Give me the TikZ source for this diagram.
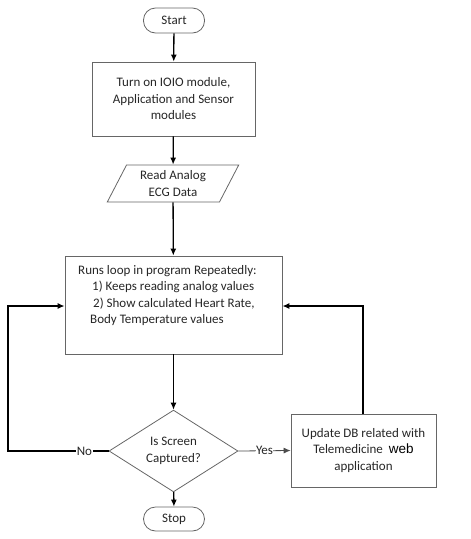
\documentclass[tikz,border=0pt]{standalone}
\usepackage{fontspec}
\setmainfont{Carlito}
\newfontfamily\webfont{Liberation Sans}
\usetikzlibrary{shapes.geometric,arrows.meta}
\tikzset{
  flow/.style={draw=black!60, line width=0.8pt, text=black!85, font=\fontsize{13}{16.5}\selectfont, align=center, inner sep=0pt},
  term/.style={flow, rounded corners=12pt, minimum width=61pt, minimum height=25pt},
  proc/.style={flow, minimum width=#1, minimum height=74pt},
  link/.style={line width=1.3pt, -{Latex[length=7pt,width=6pt]}},
  tag/.style={fill=white, inner sep=0.5pt, text=black!85, font=\fontsize{13}{16}\selectfont}
}
\begin{document}
\begin{tikzpicture}[x=1pt,y=-1pt]
\useasboundingbox (0,0) rectangle (471,539);
% blocks
\node[term] (start) at (174,20.5) {Start};
\node[proc=163pt] (init) at (173.5,99) {Turn on IOIO module,\\Application and Sensor\\modules};
\node[flow, trapezium, trapezium left angle=62, trapezium right angle=118, trapezium stretches=true, minimum width=132pt, minimum height=37pt] (read) at (173,183.5) {Read Analog\\ECG Data};
\node[flow, minimum width=217pt, minimum height=98pt] (loop) at (173.5,305) {};
\node[text=black!85, font=\fontsize{13}{16.5}\selectfont, align=left, anchor=north west, inner sep=0pt] (looptxt) at (78,265)
  {Runs loop in program Repeatedly:\\
   \hspace*{14pt}1) Keeps reading analog values\\
   \hspace*{15pt}2) Show calculated Heart Rate,\\
   \hspace*{12pt}Body Temperature values};
\node[flow, diamond, minimum width=129pt, minimum height=58pt] (check) at (173.5,451) {Is Screen\\Captured?};
\node[proc=145pt, minimum height=73pt] (update) at (363.5,450.5) {Update DB related with\\Telemedicine\hspace{6pt}{\webfont\fontsize{13.5}{16}\selectfont\color{black}web}\hspace{14pt}\\application};
\node[term, minimum height=24pt] (stop) at (174,519) {Stop};
% corners of the two loops
\coordinate (nw) at (8,451);
\coordinate (ne) at (363,306);
% main line
\draw[link] (start) -- (init);
\draw[link] (init) -- (read);
\draw[link] (read) -- (loop);
\draw[link] (loop) -- (check);
\draw[link] (check) -- (stop);
% branches
\draw[link] (check.west) -- node[tag, pos=0.24]{No} (nw) |- (loop.west |- ne);
\draw[link, line width=0.8pt, draw=black!70] (check.east) -- node[tag]{Yes} (update.west);
\draw[link] (update.north -| ne) -- (ne) -- (loop.east |- ne);
\end{tikzpicture}
\end{document}
